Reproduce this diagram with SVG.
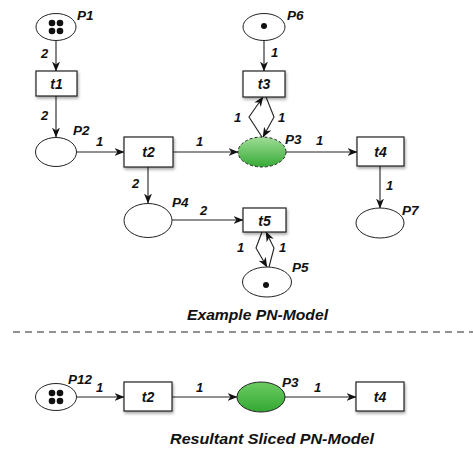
<svg xmlns="http://www.w3.org/2000/svg" width="473" height="451" viewBox="0 0 473 451">
<style>
text{font-family:"Liberation Sans",Arial,sans-serif;font-weight:bold;font-style:italic;fill:#111;}
.lbl{font-size:13.5px;}
.w{font-size:13px;}
.tl{font-size:14px;text-anchor:middle;}
.title{font-size:15.5px;text-anchor:middle;}
.pl{fill:#fff;stroke:#222;stroke-width:1;}
.tr{fill:#fff;stroke:#222;stroke-width:1.2;filter:url(#sh);}
.arc{fill:none;stroke:#222;stroke-width:1.1;marker-end:url(#ah);}
.tok{fill:#111;}
</style>
<defs>
<marker id="ah" viewBox="0 0 10 8" refX="9.5" refY="4" markerWidth="10" markerHeight="8" markerUnits="userSpaceOnUse" orient="auto">
<path d="M0,0 L10,4 L0,8 L3,4 Z" fill="#111"/>
</marker>
<filter id="sh" x="-20%" y="-20%" width="150%" height="160%">
<feDropShadow dx="1" dy="2" stdDeviation="1.5" flood-color="#000" flood-opacity="0.35"/>
</filter>
<linearGradient id="gr" x1="0" y1="0" x2="0" y2="1">
<stop offset="0" stop-color="#9fdd96"/>
<stop offset="1" stop-color="#37aa37"/>
</linearGradient>
<linearGradient id="gr2" x1="0" y1="0" x2="0" y2="1">
<stop offset="0" stop-color="#6ccc62"/>
<stop offset="1" stop-color="#33a833"/>
</linearGradient>
</defs>

<g id="connectors">
<path class="arc" d="M56,40 L56,71"/>
<path class="arc" d="M56,96 L56,137"/>
<path class="arc" d="M77,152 L124,152"/>
<path class="arc" d="M173,152 L238,152"/>
<path class="arc" d="M286,152 L357,152"/>
<path class="arc" d="M380,166 L380,208"/>
<path class="arc" d="M264,40 L264,71"/>
<path class="arc" d="M262,137 L249,117 L263,97"/>
<path class="arc" d="M266,97 L274,117 L263,137"/>
<path class="arc" d="M148,167 L148,203"/>
<path class="arc" d="M172,220 L243,220"/>
<path class="arc" d="M262,232 L256,248 L267,267"/>
<path class="arc" d="M269,267 L274,248 L266,232"/>
<path class="arc" d="M77,397 L124,397"/>
<path class="arc" d="M172,397 L237,397"/>
<path class="arc" d="M285,397 L356,397"/>
</g>

<g id="arc-labels">
<text class="w" x="41" y="58">2</text>
<text class="w" x="41" y="120">2</text>
<text class="w" x="96" y="146">1</text>
<text class="w" x="196" y="146">1</text>
<text class="w" x="316" y="145">1</text>
<text class="w" x="386" y="190">1</text>
<text class="w" x="271" y="57">1</text>
<text class="w" x="234" y="122">1</text>
<text class="w" x="278" y="122">1</text>
<text class="w" x="132" y="188">2</text>
<text class="w" x="200" y="215">2</text>
<text class="w" x="237" y="252">1</text>
<text class="w" x="279" y="252">1</text>
<text class="w" x="96" y="392">1</text>
<text class="w" x="196" y="392">1</text>
<text class="w" x="314" y="392">1</text>
</g>

<g id="P1">
<ellipse class="pl" cx="56" cy="27" rx="20" ry="13.5"/>
<circle class="tok" cx="52" cy="23" r="3.3"/>
<circle class="tok" cx="60" cy="23" r="3.3"/>
<circle class="tok" cx="52" cy="31" r="3.3"/>
<circle class="tok" cx="60" cy="31" r="3.3"/>
<text class="lbl" x="77" y="20">P1</text>
</g>
<g id="t1">
<rect class="tr" x="36" y="71" width="41" height="25"/>
<text class="tl" x="56.5" y="88.5">t1</text>
</g>
<g id="P2">
<ellipse class="pl" cx="56" cy="152" rx="20.5" ry="14.5"/>
<text class="lbl" x="73" y="135">P2</text>
</g>
<g id="t2">
<rect class="tr" x="124" y="137" width="49" height="30"/>
<text class="tl" x="148.5" y="157">t2</text>
</g>
<g id="P3">
<ellipse cx="262" cy="152" rx="24" ry="15" fill="url(#gr)" stroke="#222" stroke-width="1" stroke-dasharray="3,2"/>
<text class="lbl" x="285" y="144">P3</text>
</g>
<g id="P6">
<ellipse class="pl" cx="264" cy="27" rx="21" ry="13.5"/>
<circle class="tok" cx="264" cy="26" r="3"/>
<text class="lbl" x="287" y="20">P6</text>
</g>
<g id="t3">
<rect class="tr" x="243" y="71" width="42" height="26"/>
<text class="tl" x="264" y="89">t3</text>
</g>
<g id="t4">
<rect class="tr" x="357" y="137" width="47" height="29"/>
<text class="tl" x="380.5" y="157">t4</text>
</g>
<g id="P7">
<ellipse class="pl" cx="380" cy="223" rx="24" ry="15"/>
<text class="lbl" x="402" y="215">P7</text>
</g>
<g id="P4">
<ellipse class="pl" cx="148" cy="220.5" rx="24" ry="17"/>
<text class="lbl" x="172" y="207">P4</text>
</g>
<g id="t5">
<rect class="tr" x="243" y="208" width="43" height="24"/>
<text class="tl" x="264.5" y="225.5">t5</text>
</g>
<g id="P5">
<ellipse class="pl" cx="267" cy="282" rx="24.5" ry="15"/>
<circle class="tok" cx="266" cy="285" r="3"/>
<text class="lbl" x="292" y="272">P5</text>
</g>

<text class="title" x="257.5" y="320" textLength="141" lengthAdjust="spacingAndGlyphs">Example PN-Model</text>
<line x1="13" y1="332" x2="473" y2="332" stroke="#222" stroke-width="1" stroke-dasharray="7,5"/>

<g id="P12">
<ellipse class="pl" cx="56" cy="397" rx="20.5" ry="13.5"/>
<circle class="tok" cx="52" cy="393" r="3.3"/>
<circle class="tok" cx="60" cy="393" r="3.3"/>
<circle class="tok" cx="52" cy="401" r="3.3"/>
<circle class="tok" cx="60" cy="401" r="3.3"/>
<text class="lbl" x="68" y="384">P12</text>
</g>
<g id="t2s">
<rect class="tr" x="124" y="382" width="48" height="29"/>
<text class="tl" x="148" y="402">t2</text>
</g>
<g id="P3s">
<ellipse cx="261" cy="397" rx="24" ry="15" fill="url(#gr2)" stroke="#222" stroke-width="1"/>
<text class="lbl" x="282" y="387">P3</text>
</g>
<g id="t4s">
<rect class="tr" x="356" y="382" width="48" height="29"/>
<text class="tl" x="380" y="402">t4</text>
</g>

<text class="title" x="272" y="444" textLength="204" lengthAdjust="spacingAndGlyphs">Resultant Sliced PN-Model</text>
</svg>
